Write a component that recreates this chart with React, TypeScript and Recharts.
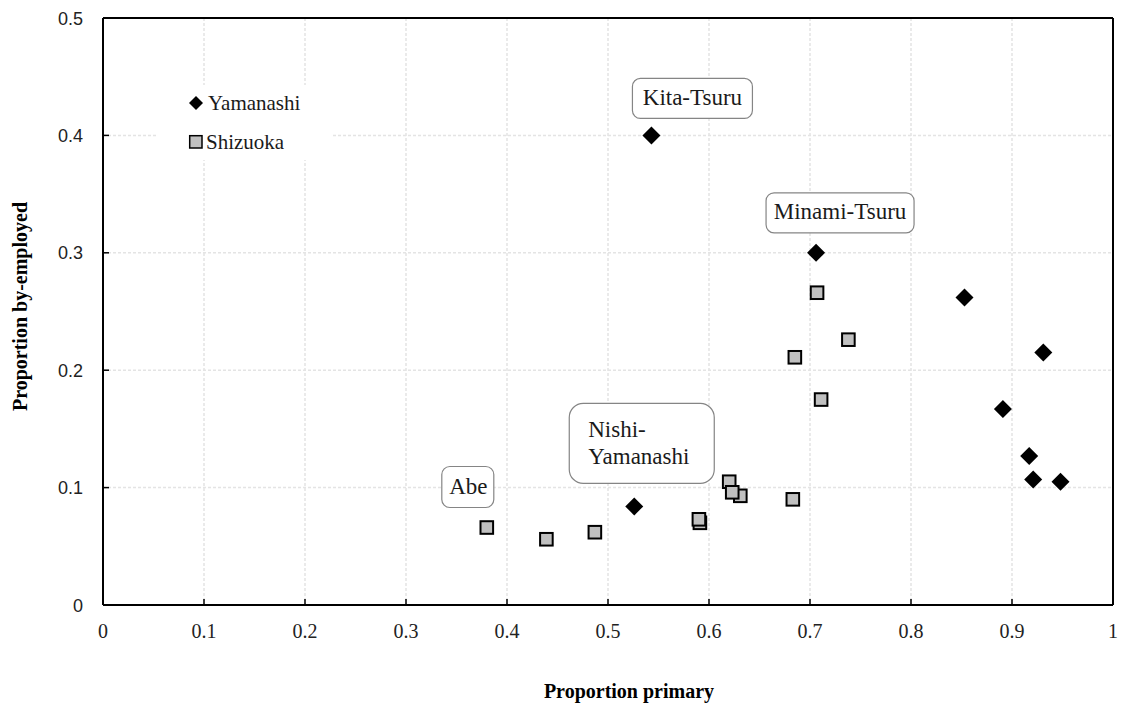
import React from 'react';
import {
  ScatterChart,
  Scatter,
  XAxis,
  YAxis,
  CartesianGrid,
  ReferenceLine,
  Legend,
  Label,
} from 'recharts';

// ---------- data ----------
const xTicks = [0, 0.1, 0.2, 0.3, 0.4, 0.5, 0.6, 0.7, 0.8, 0.9, 1];
const xTickLabels = ['0', '0.1', '0.2', '0.3', '0.4', '0.5', '0.6', '0.7', '0.8', '0.9', '1'];
const yTicks = [0, 0.1, 0.2, 0.3, 0.4, 0.5];
const yTickLabels = ['0', '0.1', '0.2', '0.3', '0.4', '0.5'];

const yamanashiNames = ['Kita-Tsuru', 'Minami-Tsuru', '', '', '', '', '', '', 'Nishi-Yamanashi'];
const yamanashiPrimary = [0.543, 0.706, 0.853, 0.931, 0.891, 0.917, 0.921, 0.948, 0.526];
const yamanashiByEmployed = [0.4, 0.3, 0.262, 0.215, 0.167, 0.127, 0.107, 0.105, 0.084];

const shizuokaNames = ['Abe', '', '', '', '', '', '', '', '', '', '', '', ''];
const shizuokaPrimary = [0.38, 0.439, 0.487, 0.591, 0.59, 0.62, 0.631, 0.623, 0.683, 0.685, 0.707, 0.738, 0.711];
const shizuokaByEmployed = [0.066, 0.056, 0.062, 0.07, 0.073, 0.105, 0.093, 0.096, 0.09, 0.211, 0.266, 0.226, 0.175];

const seriesNames = ['Yamanashi', 'Shizuoka'];

const yamanashiData = yamanashiPrimary.map((x, i) => ({
  x,
  y: yamanashiByEmployed[i],
  name: yamanashiNames[i],
}));
const shizuokaData = shizuokaPrimary.map((x, i) => ({
  x,
  y: shizuokaByEmployed[i],
  name: shizuokaNames[i],
}));

// ---------- annotation layout (offsets from the point, in px) ----------
type Anno = {
  left: number;
  top: number;
  w: number;
  h: number;
  r: number;
  lines: string[];
  anchor: 'middle' | 'start';
  tx: number;
  ty: number[];
};
const annotationLayout: Record<string, Anno> = {
  'Kita-Tsuru': { left: -19, top: -57, w: 120, h: 40, r: 8, lines: ['Kita-Tsuru'], anchor: 'middle', tx: 41, ty: [-38] },
  'Minami-Tsuru': { left: -50, top: -60, w: 148, h: 40, r: 8, lines: ['Minami-Tsuru'], anchor: 'middle', tx: 24, ty: [-41] },
  'Nishi-Yamanashi': { left: -65, top: -103, w: 145, h: 80, r: 14, lines: ['Nishi-', 'Yamanashi'], anchor: 'start', tx: -46, ty: [-77, -50] },
  Abe: { left: -45, top: -61, w: 52, h: 41, r: 8, lines: ['Abe'], anchor: 'middle', tx: -18.5, ty: [-41] },
};

const SERIF = '"Liberation Serif", "Times New Roman", serif';
const SANS = '"Liberation Sans", Arial, sans-serif';

const renderAnnotation = (cx: number, cy: number, name: string) => {
  const a = annotationLayout[name];
  if (!a) return null;
  return (
    <g>
      <rect
        x={cx + a.left}
        y={cy + a.top}
        width={a.w}
        height={a.h}
        rx={a.r}
        ry={a.r}
        fill="#ffffff"
        stroke="#858585"
        strokeWidth={1.2}
      />
      {a.lines.map((ln, i) => (
        <text
          key={i}
          x={cx + a.tx}
          y={cy + a.ty[i]}
          textAnchor={a.anchor}
          dominantBaseline="central"
          fontFamily={SERIF}
          fontSize={23}
          fill="#1a1a1a"
        >
          {ln}
        </text>
      ))}
    </g>
  );
};

const DiamondShape = (props: any) => {
  const { cx, cy, payload } = props;
  const h = 9;
  return (
    <g>
      <polygon
        points={`${cx},${cy - h} ${cx + h},${cy} ${cx},${cy + h} ${cx - h},${cy}`}
        fill="#000000"
      />
      {payload && payload.name ? renderAnnotation(cx, cy, payload.name) : null}
    </g>
  );
};

const SquareShape = (props: any) => {
  const { cx, cy, payload } = props;
  const s = 12.6;
  return (
    <g>
      <rect x={cx - s / 2} y={cy - s / 2} width={s} height={s} fill="#c0c0c0" stroke="#000000" strokeWidth={2} />
      {payload && payload.name ? renderAnnotation(cx, cy, payload.name) : null}
    </g>
  );
};

const XTick = (props: any) => {
  const { x, y, payload } = props;
  const idx = xTicks.indexOf(payload.value);
  const label = idx >= 0 ? xTickLabels[idx] : String(payload.value);
  return (
    <g>
      <line x1={x} x2={x} y1={y - 6} y2={y} stroke="#000" strokeWidth={1.5} />
      <text x={x} y={y + 33} textAnchor="middle" fontFamily={SERIF} fontSize={20} fill="#222">
        {label}
      </text>
    </g>
  );
};

const YTick = (props: any) => {
  const { x, y, payload } = props;
  const idx = yTicks.indexOf(payload.value);
  const label = idx >= 0 ? yTickLabels[idx] : String(payload.value);
  return (
    <g>
      <line x1={x} x2={x + 6} y1={y} y2={y} stroke="#000" strokeWidth={1.5} />
      <text x={x - 20} y={y + 6.5} textAnchor="end" fontFamily={SANS} fontSize={18} fill="#222">
        {label}
      </text>
    </g>
  );
};

const renderLegend = () => (
  <svg width={175} height={75} style={{ display: 'block' }}>
    <polygon points="38,11 45,18 38,25 31,18" fill="#000" />
    <text x={50} y={18} dominantBaseline="central" fontFamily={SERIF} fontSize={21} fill="#1a1a1a">
      {seriesNames[0]}
    </text>
    <rect x={31.7} y={50.7} width={12.3} height={12.3} fill="#c0c0c0" stroke="#000" strokeWidth={1.5} />
    <text x={48} y={57} dominantBaseline="central" fontFamily={SERIF} fontSize={21} fill="#1a1a1a">
      {seriesNames[1]}
    </text>
  </svg>
);

export default function App() {
  return (
    <div style={{ position: 'absolute', left: 0, top: 0, width: 1121, height: 707, background: '#fff' }}>
      <ScatterChart width={1121} height={707} margin={{ top: 18, right: 8, left: 0, bottom: 0 }}>
        <CartesianGrid stroke="#e4e4e4" strokeWidth={1.5} strokeDasharray="3 2" />
        <XAxis
          type="number"
          dataKey="x"
          domain={[0, 1]}
          ticks={xTicks}
          interval={0}
          height={102}
          tickSize={0}
          tickMargin={0}
          tickLine={false}
          axisLine={{ stroke: '#000', strokeWidth: 2 }}
          tick={<XTick />}
        >
          <Label
            content={() => (
              <text x={629} y={698} textAnchor="middle" fontFamily={SERIF} fontWeight="bold" fontSize={20} fill="#000">
                Proportion primary
              </text>
            )}
          />
        </XAxis>
        <YAxis
          type="number"
          dataKey="y"
          domain={[0, 0.5]}
          ticks={yTicks}
          interval={0}
          width={103}
          tickSize={0}
          tickMargin={0}
          tickLine={false}
          axisLine={{ stroke: '#000', strokeWidth: 2 }}
          tick={<YTick />}
        >
          <Label
            content={() => (
              <text
                x={27}
                y={306.5}
                transform="rotate(-90 27 306.5)"
                textAnchor="middle"
                fontFamily={SERIF}
                fontWeight="bold"
                fontSize={20}
                fill="#000"
              >
                Proportion by-employed
              </text>
            )}
          />
        </YAxis>
        <ReferenceLine x={1} stroke="#000" strokeWidth={2} />
        <ReferenceLine y={0.5} stroke="#000" strokeWidth={2} />
        <Legend
          layout="vertical"
          align="center"
          verticalAlign="middle"
          wrapperStyle={{ left: 158, top: 85, width: 175, height: 75, background: '#fff' }}
          content={renderLegend}
        />
        <Scatter
          name={seriesNames[0]}
          data={yamanashiData}
          shape={<DiamondShape />}
          isAnimationActive={false}
        />
        <Scatter
          name={seriesNames[1]}
          data={shizuokaData}
          shape={<SquareShape />}
          isAnimationActive={false}
        />
      </ScatterChart>
    </div>
  );
}
